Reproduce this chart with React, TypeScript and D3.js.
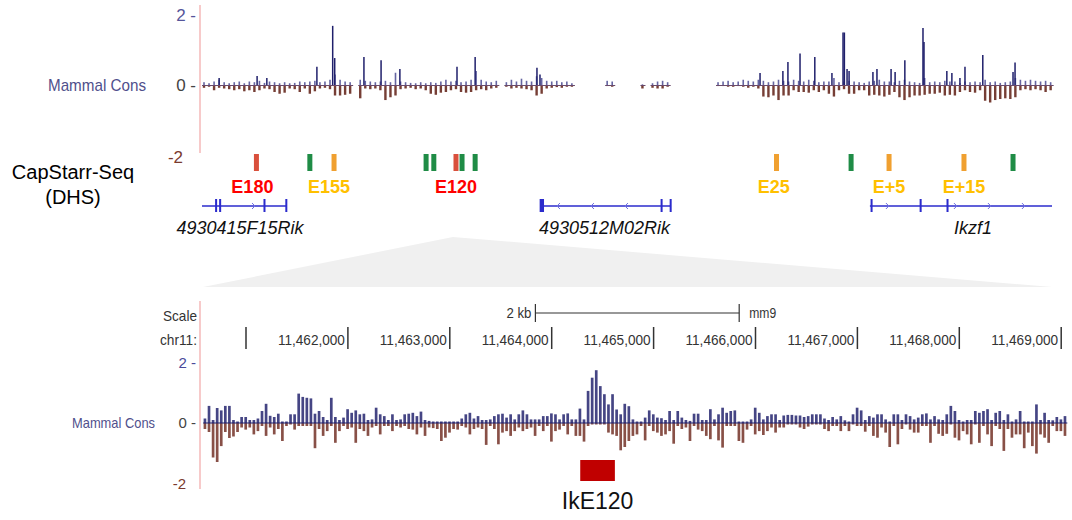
import React from 'react';
import * as d3 from 'd3';

// ---- overview track (kb along the window, 1.5 kb bins) ----
const TOP_BIN_KB = 1.5;
const TOP_SPAN_KB = 253;

const topPos: (number | null)[] = [
  0.08, 0.05, 0.1, 0.15, 0.08, 0.05, 0.08, 0.1, 0.05, 0.1,
  0.08, 0.12, 0.06, 0.1, 0.08, 0.05, 0.08, 0.05, 0.06, 0.1,
  0.08, 0.1, 0.12, 0.08, 0.1, 0.15, 0.3, 0.15, 0.1, 0.08,
  null, 0.15, 0.12, 0.1, 0.08, 0.1, 0.12, 0.08, 0.35, 0.1,
  0.08, 0.06, 0.05, 0.08, 0.05, 0.08, 0.06, 0.1, 0.15, 0.1,
  0.12, 0.08, 0.1, 0.15, 0.4, 0.15, 0.1, 0.08, 0.12, null,
  0.08, 0.15, 0.1, 0.18, 0.12, 0.1, 0.25, 0.2, 0.12, 0.1,
  0.12, 0.08, 0.1, 0.05, null, null, null, null, null, null,
  0.12, 0.1, null, null, null, null, null, 0.02, null, 0.05,
  0.1, 0.12, 0.08, null, null, null, null, null, null, null,
  null, null, 0.08, 0.1, 0.12, 0.08, 0.1, 0.15, 0.12, 0.1,
  0.15, 0.12, 0.08, 0.1, 0.15, 0.12, 0.1, 0.15, 0.12, 0.1,
  0.15, 0.12, 0.08, 0.1, 0.1, 0.2, 0.08, 0.1, 0.12, 0.1,
  0.08, 0.06, 0.1, 0.12, 0.15, 0.1, 0.1, 0.08, 0.12, 0.15,
  0.1, 0.08, 0.06, 0.2, 0.08, 0.1, 0.08, 0.12, 0.1, 0.1,
  0.06, 0.1, 0.08, 0.1, 0.08, 0.15, 0.08, 0.1, 0.06, 0.08,
  0.1, 0.2, 0.15, 0.12, 0.15, 0.12, 0.1, 0.12, 0.08,
];

const topNeg: (number | null)[] = [
  0.08, 0.05, 0.15, 0.08, 0.1, 0.12, 0.15, 0.12, 0.18, 0.15,
  0.2, 0.15, 0.1, 0.12, 0.2, 0.25, 0.22, 0.1, 0.12, 0.2,
  0.1, 0.25, 0.18, 0.1, 0.08, 0.12, 0.3, 0.3, 0.28, 0.25,
  null, 0.38, 0.1, 0.12, 0.1, 0.15, 0.43, 0.35, 0.3, 0.12,
  0.1, 0.08, 0.12, 0.1, 0.15, 0.25, 0.28, 0.22, 0.2, 0.15,
  0.12, 0.2, 0.22, 0.2, 0.15, 0.12, 0.15, 0.1, 0.08, null,
  0.05, 0.1, 0.08, 0.1, 0.12, 0.15, 0.3, 0.25, 0.1, 0.08,
  0.06, 0.08, 0.05, 0.05, null, null, null, null, null, null,
  0.03, 0.05, null, null, null, null, null, 0.1, null, 0.08,
  0.1, 0.1, 0.05, null, null, null, null, null, null, null,
  null, null, 0.03, 0.03, 0.05, 0.05, 0.03, 0.05, 0.08, 0.05,
  0.1, 0.33, 0.35, 0.3, 0.43, 0.3, 0.3, 0.15, 0.2, 0.2,
  0.22, 0.15, 0.2, 0.15, 0.25, 0.33, 0.15, 0.12, 0.25, 0.25,
  0.15, 0.15, 0.3, 0.28, 0.3, 0.33, 0.28, 0.2, 0.35, 0.43,
  0.35, 0.3, 0.3, 0.28, 0.25, 0.25, 0.22, 0.3, 0.28, 0.3,
  0.2, 0.15, 0.2, 0.22, 0.15, 0.45, 0.5, 0.43, 0.4, 0.38,
  0.4, 0.35, 0.15, 0.12, 0.15, 0.12, 0.15, 0.2, 0.15,
];

// [kb, score] conserved peaks
const topSpikes: [number, number][] = [
  [5.1, 0.2], [16.4, 0.26], [19.3, 0.2], [34.2, 0.52], [38.9, 1.69], [39.5, 0.77],
  [48.2, 0.8], [53.3, 0.71], [58.9, 0.46], [75.9, 0.52], [81.3, 0.8], [99.7, 0.49],
  [100.6, 0.3], [166.1, 0.34], [172.9, 0.4], [174.4, 0.66], [178.0, 0.9], [182.4, 0.8],
  [187.5, 0.34], [190.8, 1.5], [191.2, 1.5], [192.0, 0.46], [192.6, 0.4], [199.7, 0.37],
  [200.9, 0.46], [205.1, 0.46], [206.3, 0.37], [209.2, 0.71], [214.6, 1.63], [214.9, 1.23],
  [221.7, 0.4], [223.2, 0.34], [225.6, 0.2], [227.1, 0.52], [232.4, 0.86], [241.4, 0.37],
  [242.0, 0.64],
];

// CapStarr-Seq fragments (kb) and class
const capPos = [16.2, 32.1, 39.3, 66.7, 69.0, 75.6, 77.4, 81.3, 171.0, 193.2, 204.5, 226.8, 241.4];
const capType = ['red', 'green', 'orange', 'green', 'green', 'red', 'green', 'green', 'orange', 'green', 'orange', 'orange', 'green'];
const enhancerNames = ['E180', 'E155', 'E120', 'E25', 'E+5', 'E+15'];
const enhancerKb = [15.0, 37.8, 75.6, 170.2, 204.5, 226.8];
const enhancerType = ['red', 'orange', 'red', 'orange', 'orange', 'orange'];

const geneNames = ['4930415F15Rik', '4930512M02Rik', 'Ikzf1'];
const geneSpan: [number, number][] = [[0, 25.3], [100.6, 139.6], [198.8, 253]];
const geneStrand = [1, -1, 1];
const geneExons: [number, number][][] = [
  [[3.9, 4.5], [5.1, 5.7], [18.3, 18.8], [24.8, 25.3]],
  [[100.5, 101.8], [136.5, 137.0], [139.2, 139.7]],
  [[199.0, 199.3], [213.6, 214.2], [221.6, 222.2]],
];
const geneLabelKb = [11.3, 119.8, 229.5];
const zoomApexKb = 74.7;

// ---- zoomed track (chr11 bp, 40 bp bins) ----
const BOT_START = 11460580;
const BOT_BIN = 40;
const rulerTicks = [11461000, 11462000, 11463000, 11464000, 11465000, 11466000, 11467000, 11468000, 11469000];
const scaleBar = [11463840, 11465840];
const ikE120 = [11464280, 11464620];

const botPos = [
  0.15, 0.57, 0.1, 0.5, 0.42, 0.57, 0.57, 0.1, 0.05, 0.2,
  0.2, 0.1, 0.1, 0.15, 0.4, 0.64, 0.24, 0.2, 0.31, 0.05,
  0.05, 0.29, 0.29, 0.98, 0.87, 0.84, 0.82, 0.31, 0.4, 0.2,
  0.1, 0.84, 0.2, 0.1, 0.18, 0.46, 0.34, 0.42, 0.29, 0.31,
  0.1, 0.12, 0.51, 0.29, 0.23, 0.1, 0.29, 0.1, 0.12, 0.29,
  0.31, 0.34, 0.23, 0.38, 0.1, 0.07, 0.05, 0.05, 0.05, 0.05,
  0.05, 0.05, 0.05, 0.15, 0.29, 0.34, 0.15, 0.23, 0.1, 0.1,
  0.12, 0.23, 0.29, 0.31, 0.18, 0.29, 0.12, 0.29, 0.42, 0.29,
  0.12, 0.12, 0.12, 0.23, 0.23, 0.32, 0.29, 0.12, 0.29, 0.32,
  0.12, 0.12, 0.48, 0.12, 1.07, 1.51, 1.76, 1.23, 0.96, 0.62,
  0.96, 0.45, 0.29, 0.64, 0.56, 0.12, 0.05, 0.05, 0.18, 0.42,
  0.29, 0.18, 0.16, 0.1, 0.4, 0.1, 0.4, 0.18, 0.1, 0.07,
  0.31, 0.31, 0.1, 0.1, 0.46, 0.12, 0.29, 0.51, 0.34, 0.4,
  0.42, 0.05, 0.05, 0.05, 0.12, 0.51, 0.34, 0.12, 0.23, 0.29,
  0.29, 0.1, 0.25, 0.27, 0.27, 0.25, 0.25, 0.2, 0.23, 0.29,
  0.29, 0.29, 0.15, 0.1, 0.2, 0.12, 0.23, 0.09, 0.05, 0.29,
  0.51, 0.42, 0.1, 0.23, 0.18, 0.29, 0.29, 0.12, 0.05, 0.29,
  0.29, 0.1, 0.29, 0.23, 0.12, 0.18, 0.29, 0.32, 0.12, 0.23,
  0.12, 0.1, 0.29, 0.57, 0.4, 0.1, 0.05, 0.1, 0.1, 0.4,
  0.34, 0.4, 0.46, 0.1, 0.34, 0.4, 0.1, 0.29, 0.05, 0.12,
  0.4, 0.05, 0.05, 0.05, 0.62, 0.1, 0.34, 0.1, 0.09, 0.2,
  0.12, 0.23,
];

const botNeg = [
  0.2, 0.3, 1.15, 1.3, 0.77, 0.3, 0.5, 0.45, 0.3, 0.15,
  0.22, 0.15, 0.38, 0.27, 0.1, 0.43, 0.15, 0.38, 0.2, 0.6,
  0.1, 0.05, 0.22, 0.1, 0.1, 0.1, 0.1, 0.84, 0.2, 0.43,
  0.27, 0.1, 0.66, 0.27, 0.1, 0.2, 0.15, 0.66, 0.2, 0.27,
  0.43, 0.15, 0.1, 0.38, 0.1, 0.1, 0.27, 0.1, 0.15, 0.1,
  0.2, 0.22, 0.38, 0.15, 0.43, 0.15, 0.17, 0.2, 0.6, 0.49,
  0.32, 0.2, 0.22, 0.1, 0.15, 0.38, 0.2, 0.15, 0.2, 0.73,
  0.1, 0.2, 0.71, 0.32, 0.27, 0.43, 0.27, 0.15, 0.27, 0.2,
  0.15, 0.43, 0.1, 0.27, 0.1, 0.62, 0.27, 0.22, 0.1, 0.38,
  0.1, 0.43, 0.43, 0.62, 0.1, 0.05, 0.05, 0.05, 0.05, 0.32,
  0.38, 0.43, 0.91, 0.8, 0.6, 0.43, 0.38, 0.1, 0.58, 0.1,
  0.27, 0.32, 0.43, 0.38, 0.27, 0.69, 0.1, 0.2, 0.15, 0.6,
  0.1, 0.22, 0.27, 0.43, 0.54, 0.1, 0.58, 0.82, 0.1, 0.1,
  0.1, 0.6, 0.66, 0.22, 0.1, 0.38, 0.27, 0.4, 0.27, 0.15,
  0.32, 0.15, 0.15, 0.05, 0.05, 0.05, 0.15, 0.2, 0.12, 0.05,
  0.05, 0.05, 0.2, 0.27, 0.1, 0.1, 0.27, 0.1, 0.27, 0.05,
  0.1, 0.1, 0.29, 0.1, 0.43, 0.49, 0.15, 0.32, 0.8, 0.1,
  0.71, 0.2, 0.05, 0.22, 0.32, 0.32, 0.1, 0.1, 0.66, 0.1,
  0.36, 0.43, 0.36, 0.05, 0.49, 0.58, 0.27, 0.38, 0.71, 0.05,
  0.66, 0.1, 0.38, 0.77, 0.1, 0.2, 0.93, 0.2, 0.49, 0.38,
  0.38, 0.84, 0.32, 0.77, 1.02, 0.38, 0.49, 0.66, 0.1, 0.27,
  0.27, 0.43,
];

const FONT = 'Liberation Sans, Arial, Helvetica, sans-serif';
const NAVY = '#1f1f6b';
const BROWN = '#5e1c12';
const PINK = '#f5b8b8';
const capColor: Record<string, string> = { red: '#d9503c', green: '#1f8c46', orange: '#f0a030' };
const labelColor: Record<string, string> = { red: '#ff0000', orange: '#ffc000' };

export default function App() {
  const xTop = d3.scaleLinear().domain([0, TOP_SPAN_KB]).range([202, 1052]);
  const yTop = d3.scaleLinear().domain([-2, 2]).range([155, 15]);
  const xBot = d3.scaleLinear().domain([11461000, 11469000]).range([246, 1061.2]);
  const yBot = d3.scaleLinear().domain([-2, 2]).range([483, 363]);
  const fmt = d3.format(',');

  const botBinW = xBot(BOT_BIN) - xBot(0);
  const geneY = 206;

  // contiguous stretches of top-track data, for the thin zero line
  const topRuns: [number, number][] = [];
  topPos.forEach((v, i) => {
    if (v == null) return;
    const last = topRuns[topRuns.length - 1];
    if (last && last[1] === i) last[1] = i + 1;
    else topRuns.push([i, i + 1]);
  });

  const chevron = (x: number, dir: number) =>
    `M${x - 2 * dir},${geneY - 3}L${x + dir},${geneY}L${x - 2 * dir},${geneY + 3}`;

  return (
    <div style={{ position: 'absolute', left: 0, top: 0 }}>
      <svg width={1072} height={520} style={{ display: 'block', fontFamily: FONT }}>
        <rect width={1072} height={520} fill="#fff" />

        {/* zoom wedge */}
        <polygon
          points={`${xTop(0) + 1},287 ${xTop(zoomApexKb)},237 ${xTop(TOP_SPAN_KB)},287`}
          fill="#f0f0f0"
        />

        {/* ---------- top panel ---------- */}
        <line x1={200} x2={200} y1={5} y2={153} stroke={PINK} strokeWidth={1.5} />
        <text x={48} y={91} fontSize={17} fill="#50508c" textLength={98} lengthAdjust="spacingAndGlyphs">
          Mammal Cons
        </text>
        <text x={196} y={yTop(2) + 6} fontSize={17} fill="#55559a" textAnchor="end">2 -</text>
        <text x={196} y={yTop(0) + 6} fontSize={17} fill="#444" textAnchor="end">0 -</text>
        <text x={183} y={yTop(-2) + 8} fontSize={17} fill="#7a3a2e" textAnchor="end">-2</text>

        {topNeg.map((v, i) =>
          v == null ? null : (
            <rect key={'tn' + i} x={xTop(i * TOP_BIN_KB) + 0.8} y={yTop(0)}
              width={2.4} height={yTop(-v) - yTop(0)} fill={BROWN} fillOpacity={0.85} />
          )
        )}
        {topRuns.map(([a, b], k) => (
          <line key={'tz' + k} x1={xTop(a * TOP_BIN_KB)} x2={xTop(b * TOP_BIN_KB)}
            y1={yTop(0) + 0.5} y2={yTop(0) + 0.5} stroke="#6a4a6a" strokeWidth={1} />
        ))}
        {topPos.map((v, i) =>
          v == null ? null : (
            <rect key={'tp' + i} x={xTop(i * TOP_BIN_KB) + 1.2} y={yTop(v)}
              width={1.6} height={yTop(0) - yTop(v)} fill="#4a4a92" fillOpacity={0.85} />
          )
        )}
        {topSpikes.map(([kb, v], i) => (
          <line key={'ts' + i} x1={xTop(kb)} x2={xTop(kb)} y1={yTop(0)} y2={yTop(v)}
            stroke={NAVY} strokeWidth={1.5} />
        ))}

        {/* CapStarr-Seq */}
        <text x={73} y={179} fontSize={20} textAnchor="middle" fill="#000">CapStarr-Seq</text>
        <text x={73} y={204} fontSize={20} textAnchor="middle" fill="#000">(DHS)</text>
        {capPos.map((kb, i) => (
          <rect key={'cap' + i} x={xTop(kb) - 2.5} y={154} width={5} height={17}
            fill={capColor[capType[i]]} />
        ))}
        {enhancerNames.map((n, i) => (
          <text key={n} x={xTop(enhancerKb[i])} y={193} fontSize={18} fontWeight="bold"
            textAnchor="middle" fill={labelColor[enhancerType[i]]}>{n}</text>
        ))}

        {/* genes */}
        {geneNames.map((g, gi) => {
          const [s, e] = geneSpan[gi];
          const x0 = xTop(s);
          const x1 = xTop(e);
          const arrows = d3.range(x0 + 18, x1 - 6, 34).filter(
            (ax) => !geneExons[gi].some(([a, b]) => ax > xTop(a) - 6 && ax < xTop(b) + 6)
          );
          return (
            <g key={g}>
              <line x1={x0} x2={x1} y1={geneY} y2={geneY} stroke="#2b2bcc" strokeWidth={1.5} />
              {arrows.map((ax, k) => (
                <path key={k} d={chevron(ax, geneStrand[gi])} fill="none" stroke="#7070e0" strokeWidth={1} />
              ))}
              {geneExons[gi].map(([a, b], k) => (
                <rect key={k} x={xTop(a)} y={199} width={Math.max(2, xTop(b) - xTop(a))} height={13} fill="#2b2bcc" />
              ))}
              <text x={xTop(geneLabelKb[gi])} y={234} fontSize={18} fontStyle="italic"
                textAnchor="middle" fill="#111">{g}</text>
            </g>
          );
        })}

        {/* ---------- bottom panel ---------- */}
        <line x1={200} x2={200} y1={301} y2={489} stroke={PINK} strokeWidth={1.5} />
        <text x={197} y={321} fontSize={15} fill="#333" textAnchor="end" textLength={34} lengthAdjust="spacingAndGlyphs">Scale</text>
        <text x={197} y={345} fontSize={15} fill="#333" textAnchor="end" textLength={37} lengthAdjust="spacingAndGlyphs">chr11:</text>

        {/* scale bar */}
        <line x1={xBot(scaleBar[0])} x2={xBot(scaleBar[1])} y1={313} y2={313} stroke="#333" strokeWidth={1.2} />
        <line x1={xBot(scaleBar[0])} x2={xBot(scaleBar[0])} y1={304} y2={322} stroke="#333" strokeWidth={1.2} />
        <line x1={xBot(scaleBar[1])} x2={xBot(scaleBar[1])} y1={304} y2={322} stroke="#333" strokeWidth={1.2} />
        <text x={xBot(scaleBar[0]) - 4} y={318} fontSize={15} fill="#333" textAnchor="end" textLength={25} lengthAdjust="spacingAndGlyphs">2 kb</text>
        <text x={xBot(scaleBar[1]) + 10} y={318} fontSize={15} fill="#333" textLength={27} lengthAdjust="spacingAndGlyphs">mm9</text>

        {/* ruler */}
        {rulerTicks.map((t, i) => (
          <g key={t}>
            <line x1={xBot(t)} x2={xBot(t)} y1={327} y2={349} stroke="#333" strokeWidth={1.5} />
            {i > 0 && (
              <text x={xBot(t) - 3} y={345} fontSize={15} fill="#333" textAnchor="end"
                textLength={67} lengthAdjust="spacingAndGlyphs">{fmt(t)}</text>
            )}
          </g>
        ))}

        <text x={72} y={428} fontSize={15} fill="#50508c" textLength={83} lengthAdjust="spacingAndGlyphs">Mammal Cons</text>
        <text x={196} y={yBot(2) + 5} fontSize={15} fill="#4a4a9a" textAnchor="end">2 -</text>
        <text x={196} y={yBot(0) + 5} fontSize={15} fill="#444" textAnchor="end">0 -</text>
        <text x={186} y={yBot(-2) + 6} fontSize={15} fill="#7a3a2e" textAnchor="end">-2</text>

        {botNeg.map((v, i) => (
          <rect key={'bn' + i} x={xBot(BOT_START + i * BOT_BIN) + 0.4} y={yBot(0)}
            width={botBinW - 1.4} height={yBot(-v) - yBot(0)} fill="#6a2419" fillOpacity={0.8} />
        ))}
        {botPos.map((v, i) => (
          <rect key={'bp' + i} x={xBot(BOT_START + i * BOT_BIN) + 0.4} y={yBot(v)}
            width={botBinW - 1.4} height={yBot(0) - yBot(v)} fill="#24246f" fillOpacity={0.85} />
        ))}
        <line x1={xBot(BOT_START)} x2={xBot(BOT_START + botPos.length * BOT_BIN)}
          y1={yBot(0)} y2={yBot(0)} stroke={NAVY} strokeWidth={1} />

        {/* IkE120 element */}
        <rect x={xBot(ikE120[0])} y={460} width={xBot(ikE120[1]) - xBot(ikE120[0])} height={21} fill="#c00000" />
        <text x={(xBot(ikE120[0]) + xBot(ikE120[1])) / 2} y={509} fontSize={23} textAnchor="middle" fill="#111">IkE120</text>
      </svg>
    </div>
  );
}
